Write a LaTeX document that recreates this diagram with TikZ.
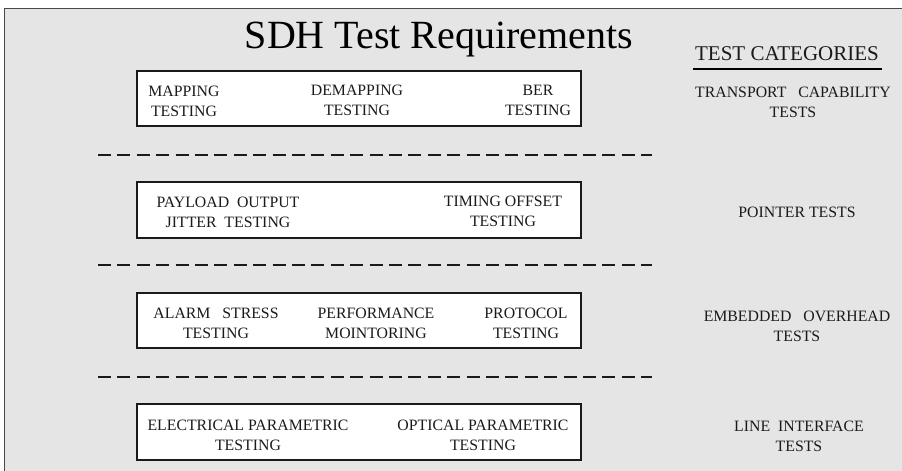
\documentclass[tikz,border=0pt]{standalone}
\usepackage{fontspec}
\setmainfont{Liberation Serif}
\definecolor{panel}{HTML}{E5E5E5}
\definecolor{ink}{HTML}{1A1A1A}
\begin{document}
\begin{tikzpicture}[x=1pt,y=-1pt,
  testbox/.style={draw=ink,fill=white,line width=1.4pt,minimum width=444pt,inner sep=0pt},
  label/.style={text=ink,font=\fontsize{15.8}{20}\selectfont,align=center,inner sep=0pt},
  split/.style={draw=ink,line width=1.8pt,dash pattern=on 13pt off 6.4pt}]
  \useasboundingbox (0,0) rectangle (902,471);
  \draw[draw=ink!80,fill=panel,line width=0.8pt] (4,8) rectangle (920,490); % frame
  \node[anchor=base,font=\fontsize{40}{44}\selectfont] (title) at (439,48) {SDH Test Requirements};
  \node[anchor=base,text=ink,font=\fontsize{21}{24}\selectfont] (cat) at (787,60) {TEST CATEGORIES};
  \coordinate (ul) at (693,69);
  \coordinate (ur) at (882,69);
  \draw[line width=2pt] (ul) -- (ur); % underline
  % boxes
  \node[testbox,minimum height=55pt] (transport) at (359,98.5) {};
  \node[testbox,minimum height=56pt] (pointer) at (359,210) {};
  \node[testbox,minimum height=55pt] (overhead) at (359,320.5) {};
  \node[testbox,minimum height=56pt] (line) at (359,432) {};
  % separators
  \foreach \y in {155,265,377}{
    \draw[split] (98,\y) -- (652,\y);
  }
  % tests in the boxes
  \node[label] (map) at (184,101) {MAPPING\\TESTING};
  \node[label] (demap) at (357,100) {DEMAPPING\\TESTING};
  \node[label] (ber) at (538,100) {BER\\TESTING};
  \node[label] (jitter) at (228,212) {PAYLOAD\ \ OUTPUT\\JITTER\ \ TESTING};
  \node[label] (offset) at (503,211) {TIMING OFFSET\\TESTING};
  \node[label] (alarm) at (216,323) {ALARM\ \ \ STRESS\\TESTING};
  \node[label] (perf) at (376,323) {PERFORMANCE\\MOINTORING};
  \node[label] (proto) at (526,323) {PROTOCOL\\TESTING};
  \node[label] (elec) at (248,435) {ELECTRICAL PARAMETRIC\\TESTING};
  \node[label] (opt) at (483,435) {OPTICAL PARAMETRIC\\TESTING};
  % categories
  \node[label] (tcat) at (793,102) {TRANSPORT\ \ \ CAPABILITY\\TESTS};
  \node[label] (pcat) at (797,212.5) {POINTER TESTS};
  \node[label] (ocat) at (797,326.5) {EMBEDDED\ \ \ OVERHEAD\\TESTS};
  \node[label] (lcat) at (799,436.5) {LINE\ \ INTERFACE\\TESTS};
\end{tikzpicture}
\end{document}
